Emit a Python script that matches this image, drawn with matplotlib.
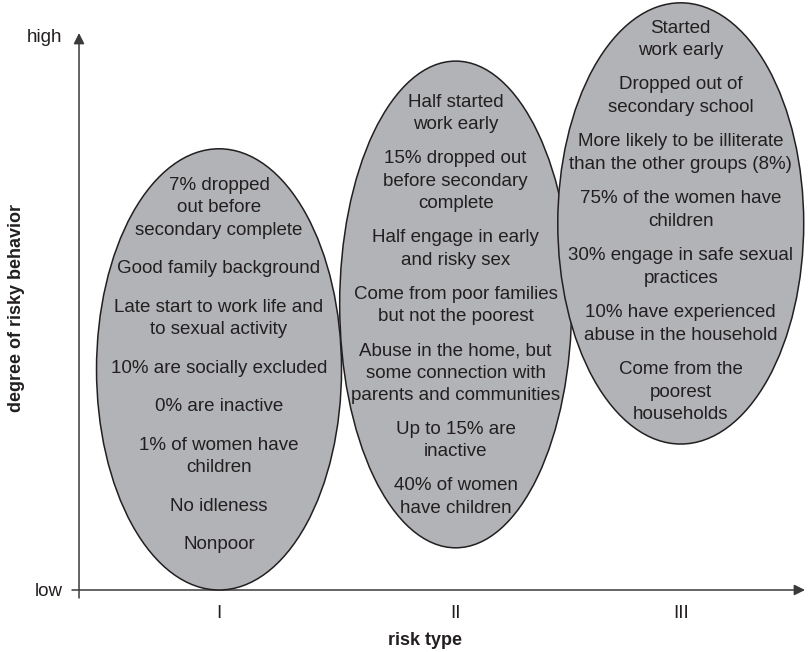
import matplotlib
matplotlib.use("Agg")
import matplotlib.pyplot as plt
from matplotlib.patches import Ellipse

# risk groups and where their ellipse sits on the "degree of risky behavior" scale (0 = low, 1 = high)
risk_types = ["I", "II", "III"]
type_pos = [1.0, 2.02, 2.99]
degree_low = [0.0, 0.076, 0.263]
degree_high = [0.795, 0.953, 1.058]
spread = [1.056, 1.0, 1.06]

# text inside each ellipse, one list of blocks per risk type
blocks_I = [
    ["7% dropped", "out before", "secondary complete"],
    ["Good family background"],
    ["Late start to work life and", "to sexual activity"],
    ["10% are socially excluded"],
    ["0% are inactive"],
    ["1% of women have", "children"],
    ["No idleness"],
    ["Nonpoor"],
]
blocks_II = [
    ["Half started", "work early"],
    ["15% dropped out", "before secondary", "complete"],
    ["Half engage in early", "and risky sex"],
    ["Come from poor families", "but not the poorest"],
    ["Abuse in the home, but", "some connection with", "parents and communities"],
    ["Up to 15% are", "inactive"],
    ["40% of women", "have children"],
]
blocks_III = [
    ["Started", "work early"],
    ["Dropped out of", "secondary school"],
    ["More likely to be illiterate", "than the other groups (8%)"],
    ["75% of the women have", "children"],
    ["30% engage in safe sexual", "practices"],
    ["10% have experienced", "abuse in the household"],
    ["Come from the", "poorest", "households"],
]
all_blocks = [blocks_I, blocks_II, blocks_III]

ink = "#231f20"
fill = "#b1b3b6"
plt.rcParams["font.family"] = ["Liberation Sans", "DejaVu Sans"]
fs = 13.5
fs_lab = 13

fig = plt.figure(figsize=(8.08, 6.52), dpi=100)
ax = fig.add_axes([0.0978, 0.0951, 0.8923, 0.8512])
ax.set_xlim(0.3966, 3.504)
ax.set_ylim(0, 1)
for s in ax.spines.values():
    s.set_visible(False)

# one pixel in data units (vertical)
px = 1.0 / 555
first_line = [185, 102, 28]
line_step = [22.6, 22.5, 22.6]
block_gap = [38.5, 34, 34.3]

for i in range(len(risk_types)):
    h = degree_high[i] - degree_low[i]
    e = Ellipse((type_pos[i], degree_low[i] + h / 2), spread[i], h,
                facecolor=fill, edgecolor=ink, lw=1.1, clip_on=False, zorder=2)
    ax.add_patch(e)
    y = (590 - first_line[i]) * px
    for b in all_blocks[i]:
        for j, line in enumerate(b):
            if j > 0:
                y -= line_step[i] * px
            ax.text(type_pos[i], y, line, ha="center", va="center",
                    fontsize=fs, color=ink, zorder=3)
        y -= block_gap[i] * px

# axes with arrow heads
arrow = dict(arrowstyle="-|>", lw=1.1, color="#3a3a3a", mutation_scale=16,
             shrinkA=0, shrinkB=0)
ax.annotate("", xy=(1.0069, 0), xytext=(-0.0097, 0), xycoords="axes fraction",
            arrowprops=arrow, zorder=1)
ax.annotate("", xy=(0, 1.0036), xytext=(0, -0.0144), xycoords="axes fraction",
            arrowprops=arrow, zorder=1)

ax.set_xticks(type_pos, risk_types)
ax.set_yticks([0, 1], ["low", "high"])
ax.tick_params(axis="x", length=0, pad=11, labelsize=fs, labelcolor=ink)
ax.tick_params(axis="y", length=0, pad=12, labelsize=fs, labelcolor=ink)

ax.set_xlabel("risk type", fontsize=fs_lab, fontweight="bold", color=ink)
ax.xaxis.set_label_coords((425 - 79) / 721, -(641 - 590) / 555)
ax.set_ylabel("degree of risky behavior", fontsize=fs_lab, fontweight="bold", color=ink)
ax.yaxis.set_label_coords(-(79 - 16) / 721, (590 - 308) / 555)
ax.xaxis.label.set_va("center")
ax.yaxis.label.set_va("center")

fig.savefig("out.png", dpi=100, facecolor="white")
